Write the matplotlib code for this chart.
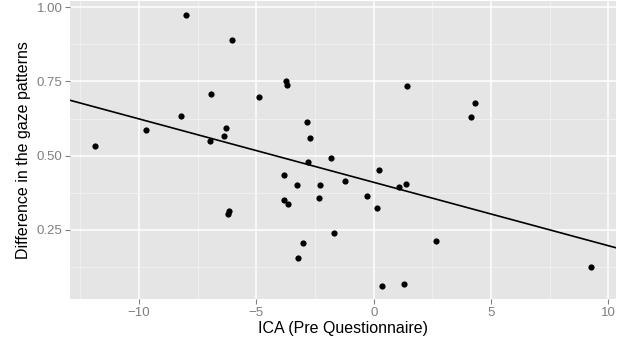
import numpy as np
import matplotlib
matplotlib.use("Agg")
from matplotlib import pyplot as plt

# ICA score (pre questionnaire) vs. difference in gaze patterns
ica = [-11.89, -9.70, -8.01, -8.22, -6.94, -6.06, -6.96, -6.29, -6.37, -6.19,
       -6.23, -4.91, -3.76, -3.71, -2.83, -2.73, -2.82, -3.81, -3.84, -3.64,
       -3.27, -3.03, -3.21, -1.82, -2.30, -2.32, -1.71, -1.21, 1.40, 4.34,
       4.14, 0.21, -0.28, 0.16, 1.08, 1.38, 2.66, 0.34, 1.28, 9.26]
gaze_diff = [0.534, 0.585, 0.975, 0.634, 0.709, 0.889, 0.548, 0.592, 0.566, 0.315,
             0.302, 0.696, 0.752, 0.737, 0.612, 0.559, 0.480, 0.435, 0.351, 0.338,
             0.400, 0.205, 0.154, 0.491, 0.400, 0.357, 0.239, 0.413, 0.734, 0.676,
             0.629, 0.451, 0.363, 0.324, 0.393, 0.404, 0.213, 0.062, 0.069, 0.124]

x_ticks = [-10, -5, 0, 5, 10]
x_labels = ['\u221210', '\u22125', '0', '5', '10']
y_ticks = [0.25, 0.50, 0.75, 1.00]
y_labels = ['0.25', '0.50', '0.75', '1.00']

plt.rcParams['font.family'] = ['Liberation Sans', 'DejaVu Sans']

fig = plt.figure(figsize=(6.31, 3.46), dpi=100)
ax = fig.add_axes([70 / 631, 46.7 / 346, 545.7 / 631, 298.3 / 346])

# ggplot-like expanded limits
x = np.array(ica)
y = np.array(gaze_diff)
xr = x.max() - x.min()
yr = y.max() - y.min()
xlim = (x.min() - 0.05 * xr, x.max() + 0.05 * xr)
ylim = (y.min() - 0.05 * yr, y.max() + 0.05 * yr)

ax.set_facecolor('#E5E5E5')
for s in ax.spines.values():
    s.set_visible(False)

ax.set_xticks(x_ticks)
ax.set_xticklabels(x_labels)
ax.set_yticks(y_ticks)
ax.set_yticklabels(y_labels)
ax.set_xticks([-12.5, -7.5, -2.5, 2.5, 7.5], minor=True)
ax.set_yticks([0.125, 0.375, 0.625, 0.875], minor=True)
ax.grid(which='major', color='white', linewidth=1.1)
ax.grid(which='minor', color='#F2F2F2', linewidth=0.6)
ax.set_axisbelow(True)
ax.tick_params(which='major', length=3.5, width=0.8, color='#7F7F7F',
               labelcolor='#7F7F7F', labelsize=9.5, pad=2)
ax.tick_params(which='minor', length=0)

# regression line over the full range
slope, intercept = np.polyfit(x, y, 1)
xs = np.array(xlim)
ax.plot(xs, intercept + slope * xs, color='black', linewidth=1.2, zorder=2)

ax.scatter(x, y, s=20, color='black', zorder=3, linewidths=0)

ax.set_xlim(xlim)
ax.set_ylim(ylim)
ax.set_xlabel('ICA (Pre Questionnaire)', fontsize=11.5, labelpad=1.5)
ax.set_ylabel('Difference in the gaze patterns', fontsize=11.5, labelpad=4)

fig.savefig('out.png', dpi=100)
